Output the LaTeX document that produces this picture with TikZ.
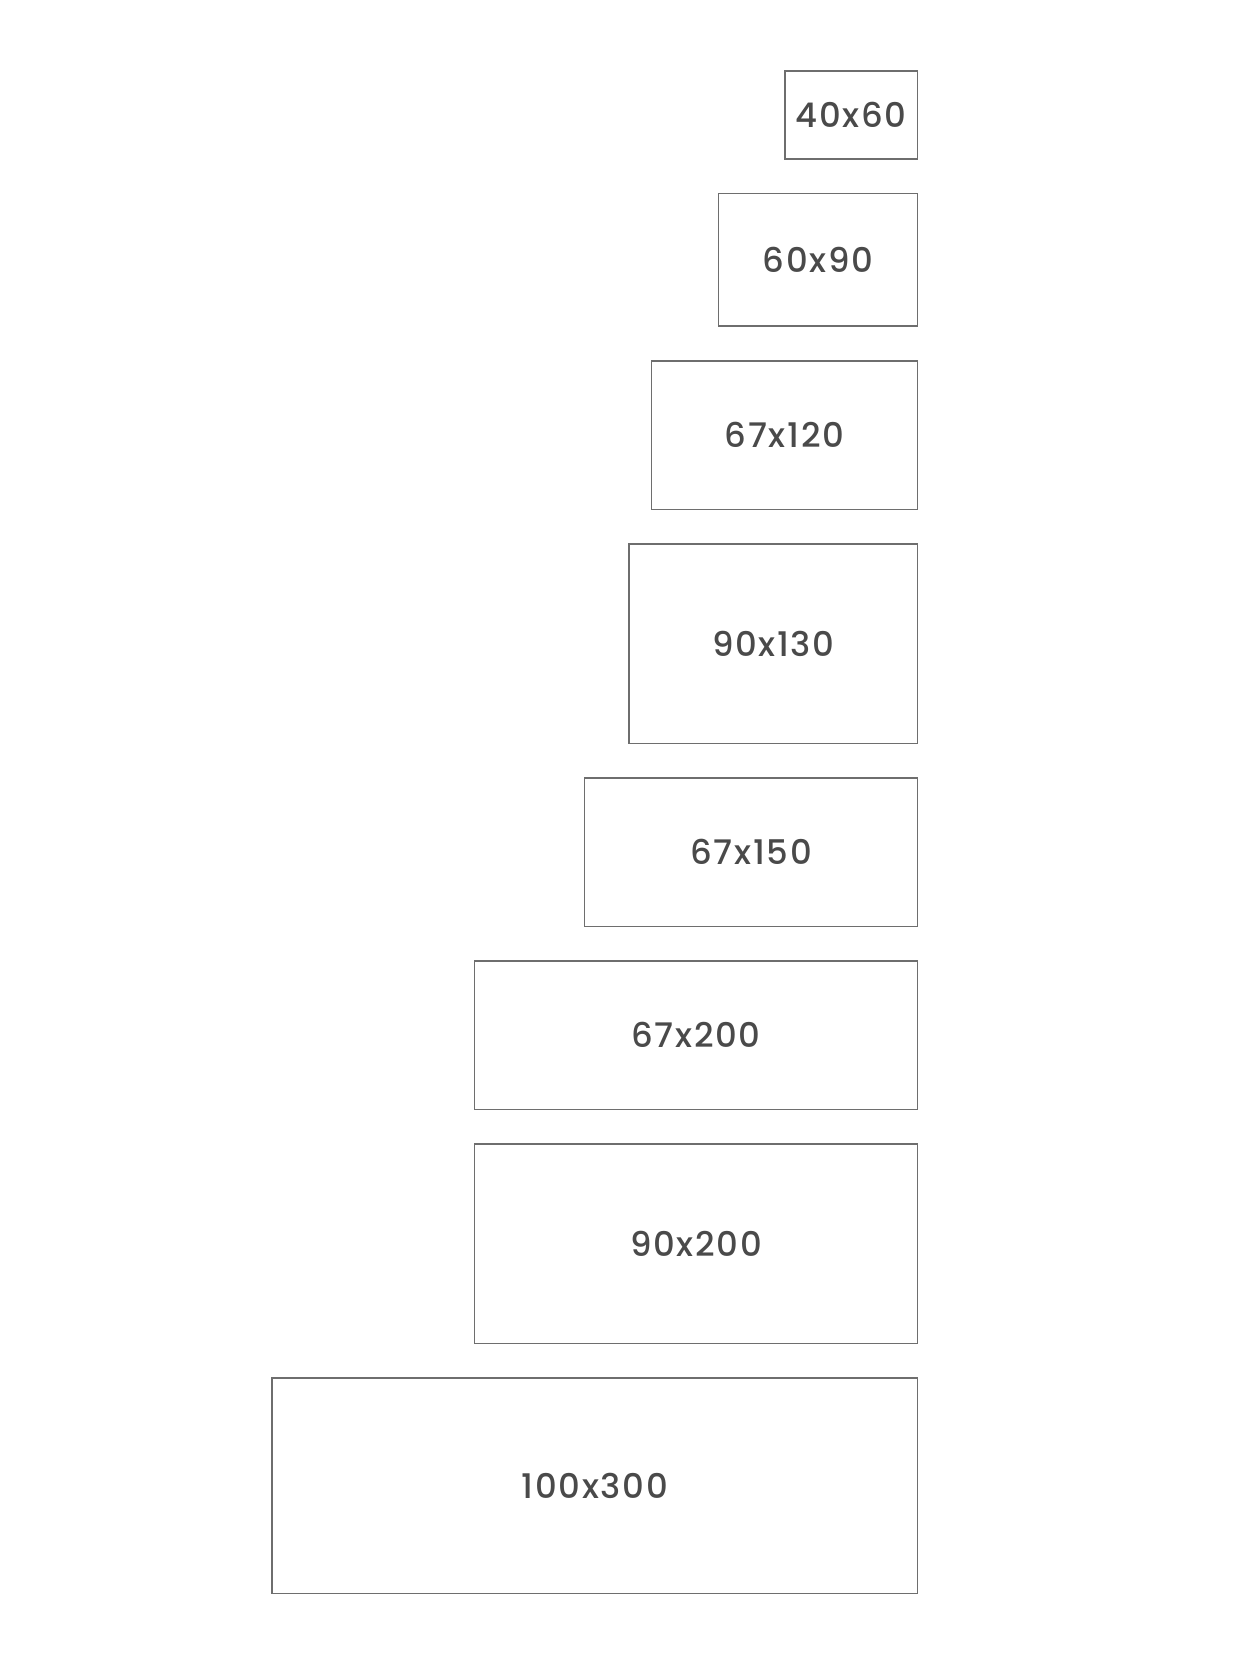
\documentclass[tikz,border=0pt]{standalone}
\usepackage{fontspec}
\setmainfont{Poppins}[UprightFont=* Medium, LetterSpace=5]
\usetikzlibrary{positioning}
\definecolor{framegray}{HTML}{6E6E6E}
\definecolor{labelgray}{HTML}{4A4A4A}
\tikzset{
	sizebox/.style={draw=framegray, line width=1.3pt, inner sep=0pt, outer sep=0pt,
		text=labelgray, font=\fontsize{32}{37}\selectfont}
}

\begin{document}
\begin{tikzpicture}[x=1pt,y=-1pt]
	% page frame, fixes the margins
	\useasboundingbox (0,0) rectangle (1170,1565);
	% the smallest format, right edge sets the column
	\node[sizebox, minimum width=125pt, minimum height=83pt, anchor=north east] (s40x60) at (865.5,67) {40x60};
	% the others hang below it, all flush right
	\node[sizebox, minimum width=188pt, minimum height=125pt, below=32.7pt of s40x60.south east, anchor=north east] (s60x90) {60x90};
	\node[sizebox, minimum width=251pt, minimum height=140pt, below=32.7pt of s60x90.south east, anchor=north east] (s67x120) {67x120};
	\node[sizebox, minimum width=272pt, minimum height=188pt, below=32.7pt of s67x120.south east, anchor=north east] (s90x130) {90x130};
	\node[sizebox, minimum width=314pt, minimum height=140pt, below=32.7pt of s90x130.south east, anchor=north east] (s67x150) {67x150};
	\node[sizebox, minimum width=418pt, minimum height=140pt, below=32.7pt of s67x150.south east, anchor=north east] (s67x200) {67x200};
	\node[sizebox, minimum width=418pt, minimum height=188pt, below=32.7pt of s67x200.south east, anchor=north east] (s90x200) {90x200};
	% the largest one
	\node[sizebox, minimum width=609pt, minimum height=203pt, below=32.7pt of s90x200.south east, anchor=north east] (s100x300) {100x300};
\end{tikzpicture}
\end{document}
